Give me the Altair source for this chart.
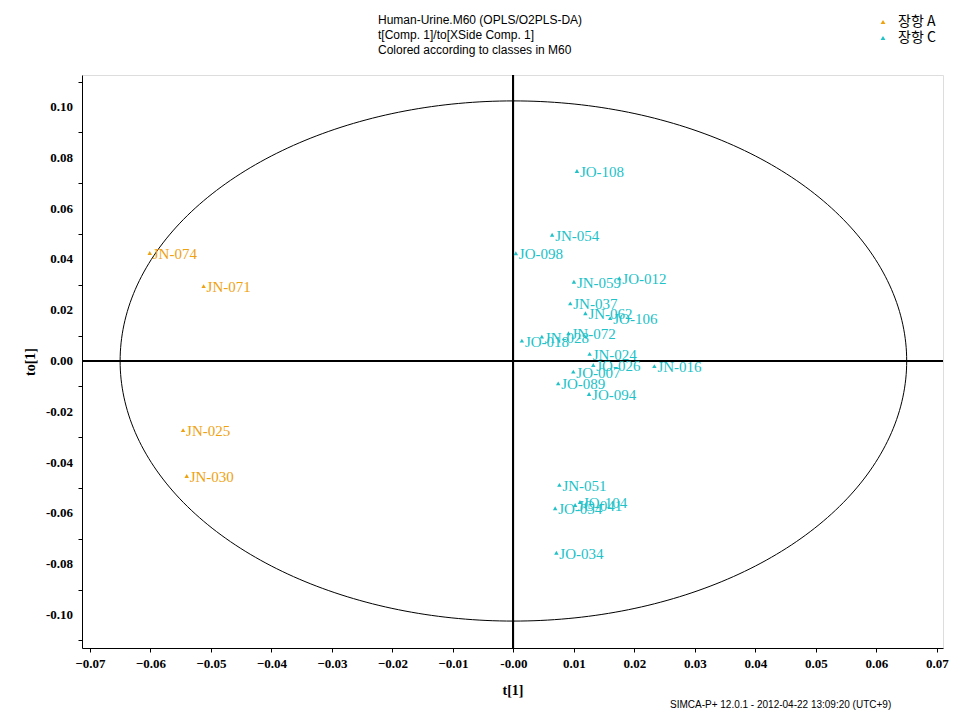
import altair as alt
import numpy as np
import pandas as pd

# ---- data ----
labels_a = ["JN-074", "JN-071", "JN-025", "JN-030"]
x_a = [-0.0601, -0.0512, -0.0546, -0.0540]
y_a = [0.0425, 0.0295, -0.0272, -0.0453]

labels_c = ["JO-108", "JN-054", "JO-098", "JN-059", "JO-012", "JN-037", "JN-062",
            "JO-106", "JO-018", "JN-028", "JN-072", "JN-024", "JO-026", "JN-016",
            "JO-007", "JO-089", "JO-094", "JN-051", "JO-054", "JO-041", "JO-104",
            "JO-034"]
x_c = [0.0105, 0.0064, 0.0004, 0.0100, 0.0175, 0.0094, 0.0119,
       0.0160, 0.0014, 0.0047, 0.0091, 0.0126, 0.0132, 0.0233,
       0.0099, 0.0074, 0.0125, 0.0076, 0.0069, 0.0102, 0.0110,
       0.0071]
y_c = [0.0748, 0.0497, 0.0424, 0.0312, 0.0326, 0.0227, 0.0188,
       0.0169, 0.0080, 0.0096, 0.0109, 0.0028, -0.0016, -0.0020,
       -0.0042, -0.0088, -0.0130, -0.0488, -0.0580, -0.0567, -0.0555,
       -0.0755]

class_names = ["장항 A", "장항 C"]
class_colors = ["#EFA20F", "#20C2C8"]

ellipse_a = 0.0650   # Hotelling T2 ellipse semi-axis (t[1])
ellipse_b = 0.1024   # semi-axis (to[1])

x_ticks = [round(-0.07 + i * 0.005, 3) for i in range(29)]
y_ticks = [round(-0.11 + i * 0.01, 2) for i in range(23)]
y_label_values = [-0.10, -0.08, -0.06, -0.04, -0.02, 0.00, 0.02, 0.04, 0.06, 0.08, 0.10]
y_label_text = ["-0.10", "-0.08", "-0.06", "-0.04", "-0.02", "0.00",
                "0.02", "0.04", "0.06", "0.08", "0.10"]

title_text = ("Human-Urine.M60 (OPLS/O2PLS-DA)\n"
              "t[Comp. 1]/to[XSide Comp. 1]\n"
              "Colored according to classes in M60")
footer_text = "SIMCA-P+ 12.0.1 - 2012-04-22 13:09:20 (UTC+9)"

# ---- tables ----
pts = pd.DataFrame({
    "label": labels_a + labels_c,
    "t": x_a + x_c,
    "to": y_a + y_c,
    "cls": [class_names[0]] * len(labels_a) + [class_names[1]] * len(labels_c),
})

theta = np.linspace(0, 2 * np.pi, 361)
ell = pd.DataFrame({"t": ellipse_a * np.cos(theta),
                    "to": ellipse_b * np.sin(theta),
                    "i": np.arange(len(theta))})

ylab = pd.DataFrame({"to": y_label_values, "txt": y_label_text})

W, H = 861, 573
xscale = alt.Scale(domain=[-0.0713, 0.0710], nice=False, zero=False)
yscale = alt.Scale(domain=[-0.1130, 0.1126], nice=False, zero=False)

axis_common = dict(grid=False, labelFont="Liberation Serif", labelFontWeight="bold",
                   labelFontSize=13, labelColor="black", titleFont="Liberation Serif",
                   titleFontWeight="bold", titleFontSize=14, titleColor="black",
                   domainColor="black", tickColor="black", tickSize=4,
                   labelFlush=False, labelOverlap=False)

xaxis = alt.Axis(values=x_ticks, title="t[1]", labelPadding=5, titlePadding=13,
                 labelExpr="datum.value == 0 ? '-0.00' : (abs(datum.value*100 - round(datum.value*100)) < 0.000001 ? format(datum.value, '.2f') : '')",
                 **axis_common)
yaxis = alt.Axis(values=y_ticks, title="to[1]", labels=False, titlePadding=40,
                 **axis_common)

color = alt.Color("cls:N", scale=alt.Scale(domain=class_names, range=class_colors),
                  legend=alt.Legend(title=None, orient="none", legendX=794, legendY=-60,
                                    symbolType="triangle-up", symbolSize=24,
                                    labelFont="Noto Sans CJK KR", labelFontSize=14,
                                    labelColor="black", rowPadding=2, labelOffset=8,
                                    symbolStrokeWidth=0))

ellipse = alt.Chart(ell).mark_line(color="black", strokeWidth=1).encode(
    x=alt.X("t:Q", scale=xscale, axis=xaxis),
    y=alt.Y("to:Q", scale=yscale, axis=yaxis),
    order="i:Q",
)

vline = alt.Chart(pts).mark_rule(color="black", strokeWidth=1.2).encode(x=alt.datum(0))
hline = alt.Chart(pts).mark_rule(color="black", strokeWidth=1.2).encode(y=alt.datum(0))

points = alt.Chart(pts).mark_point(shape="triangle-up", filled=True, size=20, opacity=1).encode(
    x=alt.X("t:Q", scale=xscale), y=alt.Y("to:Q", scale=yscale), color=color)

texts = alt.Chart(pts).mark_text(align="left", baseline="middle", dx=3, dy=1,
                                 font="Liberation Serif", fontSize=15).encode(
    x=alt.X("t:Q", scale=xscale), y=alt.Y("to:Q", scale=yscale),
    text="label:N", color=alt.Color("cls:N", scale=alt.Scale(domain=class_names, range=class_colors), legend=None))

ylabels = alt.Chart(ylab).mark_text(align="right", baseline="middle", font="Liberation Serif",
                                    fontWeight="bold", fontSize=13, color="black", dx=-9).encode(
    x=alt.value(0), y=alt.Y("to:Q", scale=yscale), text="txt:N")

title = alt.Chart(pd.DataFrame({"txt": [title_text]})).mark_text(
    align="left", baseline="top", font="Liberation Sans", fontSize=12, lineHeight=15,
    lineBreak="\n", color="black").encode(
    x=alt.value(296), y=alt.value(-60), text="txt:N")

footer = alt.Chart(pd.DataFrame({"txt": [footer_text]})).mark_text(
    align="left", baseline="middle", font="Liberation Sans", fontSize=10, color="black").encode(
    x=alt.value(588), y=alt.value(H + 57), text="txt:N")

chart = alt.layer(ellipse, vline, hline, points, texts, ylabels, title, footer).properties(
    width=W, height=H,
    padding={"left": 74, "top": 67, "right": 10, "bottom": 66},
    autosize=alt.AutoSizeParams(type="none"),
).configure_view(stroke=None).configure(background="white").configure_axis(labelOverlap=False)

chart.save("out.html", embed_options={"renderer": "svg", "actions": False})
